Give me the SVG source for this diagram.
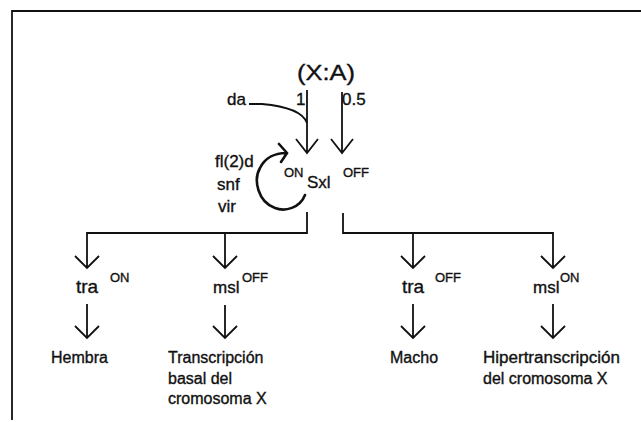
<svg xmlns="http://www.w3.org/2000/svg" width="641" height="422" viewBox="0 0 641 422">
<style>
text{font-family:"Liberation Sans",Arial,sans-serif;fill:#111;stroke:#111;stroke-width:0.35}
.t17{font-size:17px}
.t19{font-size:19px}
.t16{font-size:16px}
.sm{font-size:13px}
.ln{fill:none;stroke:#111;stroke-width:1.8}
.thick{fill:none;stroke:#111;stroke-width:2.6;stroke-linecap:round}
</style>
<rect width="641" height="422" fill="#fff"/>
<path class="ln" d="M12,420 V11 H641" stroke-width="2"/>

<g id="connectors">
  <path class="ln" d="M307,90 V153 M296,139 L307,153 L318,139"/>
  <path class="ln" d="M342,92 V153 M331,139 L342,153 L353,139"/>
  <path class="ln" d="M249,104 L262,104 C285,106 303,112 307,123"/>
  <path class="thick" d="M305,195 C300,208 285,212 275,208 C258,202 253,180 260,168 C265,158 275,153 286,153 M279,144 L287,153 L281,162"/>
  <path class="ln" d="M307,212 V233 H87 V268 M75,256 L87,268 L99,256 M225,233 V268 M213,256 L225,268 L237,256"/>
  <path class="ln" d="M343,213 V233 H553 V268 M541,256 L553,268 L565,256 M413,233 V268 M401,256 L413,268 L425,256"/>
  <path class="ln" d="M87,304 V338 M75,326 L87,338 L99,326"/>
  <path class="ln" d="M225,305 V338 M213,326 L225,338 L237,326"/>
  <path class="ln" d="M413,304 V338 M401,326 L413,338 L425,326"/>
  <path class="ln" d="M553,304 V338 M541,326 L553,338 L565,326"/>
</g>

<g id="xa"><text x="326" y="80" font-size="22" text-anchor="middle" textLength="58" lengthAdjust="spacingAndGlyphs">(X:A)</text></g>
<g id="da"><text class="t17" x="227" y="105">da</text></g>
<g id="ratio1"><text class="t17" x="296" y="105">1</text></g>
<g id="ratio05"><text class="t17" x="342" y="105">0.5</text></g>
<g id="regulators">
  <text class="t17" x="215" y="167">fl(2)d</text>
  <text class="t17" x="217" y="190">snf</text>
  <text class="t17" x="218" y="212">vir</text>
</g>
<g id="sxl">
  <text class="sm" x="284" y="177">ON</text>
  <text class="t17" x="307" y="188">Sxl</text>
  <text class="sm" x="343" y="177">OFF</text>
</g>
<g id="tra-on"><text class="t19" x="76" y="293">tra</text><text class="sm" x="110" y="282">ON</text></g>
<g id="msl-off"><text class="t17" x="213" y="293">msl</text><text class="sm" x="242" y="282">OFF</text></g>
<g id="tra-off"><text class="t19" x="402" y="293">tra</text><text class="sm" x="435" y="282">OFF</text></g>
<g id="msl-on"><text class="t17" x="533" y="293">msl</text><text class="sm" x="560" y="282">ON</text></g>
<g id="hembra"><text class="t16" x="51" y="363">Hembra</text></g>
<g id="basal">
  <text class="t16" x="168" y="363">Transcripción</text>
  <text class="t16" x="168" y="384">basal del</text>
  <text class="t16" x="168" y="404">cromosoma X</text>
</g>
<g id="macho"><text class="t16" x="390" y="363">Macho</text></g>
<g id="hiper">
  <text class="t16" x="483" y="363" textLength="137" lengthAdjust="spacingAndGlyphs">Hipertranscripción</text>
  <text class="t16" x="483" y="384">del cromosoma X</text>
</g>
</svg>
